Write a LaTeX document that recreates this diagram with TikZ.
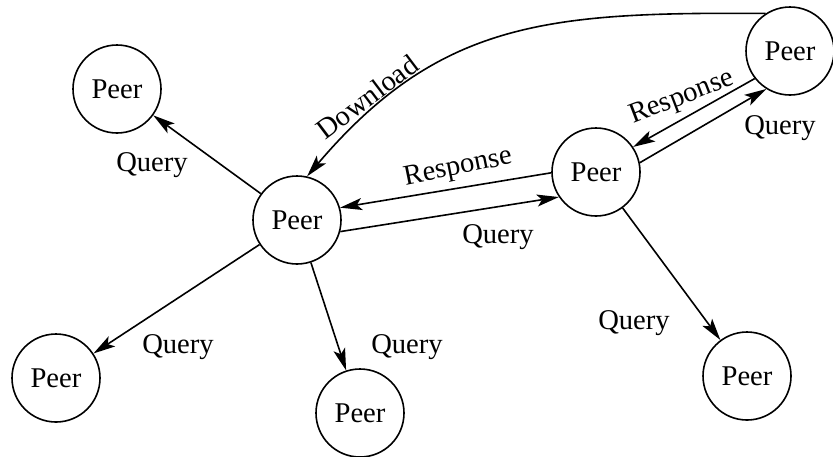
\documentclass[tikz,border=0pt]{standalone}
\usepackage{fontspec}
\setmainfont{Liberation Serif}
\usetikzlibrary{arrows.meta}
\begin{document}
\begin{tikzpicture}[x=0.5pt, y=-0.5pt, line width=0.8pt,
    font=\fontsize{14.3}{17}\selectfont,
    peer/.style={circle, draw, minimum size=44pt, inner sep=0pt},
    msg/.style={-{Stealth[length=11pt,width=6pt,inset=2.5pt]}}]
    \useasboundingbox (0,0) rectangle (833,456);
    \node[peer] (tl) at (117,89) {Peer};
    \node[peer] (c) at (297,220) {Peer};
    \node[peer] (rm) at (596,172) {Peer};
    \node[peer] (tr) at (790,51) {Peer};
    \node[peer] (bl) at (56,378) {Peer};
    \node[peer] (bm) at (360,413) {Peer};
    \node[peer] (br) at (747,376) {Peer};
    \draw[msg] (c) -- (tl);
    \draw[msg] (c) -- (bl);
    \draw[msg] (c) -- (bm);
    \draw[msg] (rm) -- (br);
    \draw[msg] (rm.181) -- (c.16);
    \draw[msg] (c.-15) -- (rm.214);
    \draw[msg] (tr.218) -- (rm.34);
    \draw[msg] (rm.12) -- (tr.238);
    \draw[msg] (tr.123) .. controls (550,12) and (440,20) .. (c.77);
    \node (q1) at (152,165) {Query};
    \node[rotate=37] (dl) at (367,97) {Download};
    \node[rotate=11.5] (r1) at (458,168) {Response};
    \node (q2) at (498,237) {Query};
    \node[rotate=21] (r2) at (682,98) {Response};
    \node (q3) at (780,128) {Query};
    \node (q4) at (178,347) {Query};
    \node (q5) at (407,347) {Query};
    \node (q6) at (634,323) {Query};
\end{tikzpicture}
\end{document}
